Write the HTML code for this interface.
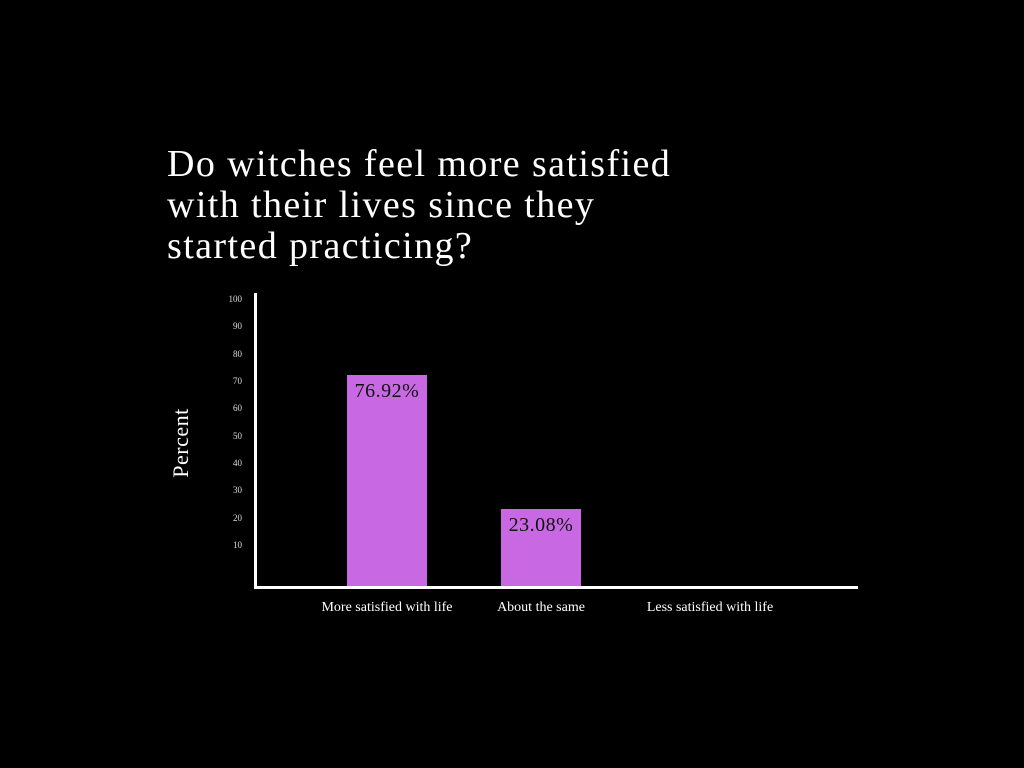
<!DOCTYPE html>
<html><head><meta charset="utf-8"><style>
body{margin:0;background:#000;width:1024px;height:768px;overflow:hidden;position:relative;font-family:"Liberation Serif",serif;color:#fff}
.t{position:absolute;left:167px;top:144px;font-size:38px;line-height:41px;letter-spacing:1.4px;white-space:nowrap}
.tick{position:absolute;right:782px;font-size:9px;color:#ddd;transform:translateY(-50%)}
.bar{position:absolute;background:#c968e3;width:80px;bottom:182px}
.bl{position:absolute;width:100%;text-align:center;top:5px;font-size:20px;color:#111;letter-spacing:0.5px}
.xl{position:absolute;top:600px;font-size:14px;transform:translateX(-50%);white-space:nowrap}
</style></head><body>
<div class="t">Do witches feel more satisfied<br>with their lives since they<br>started practicing?</div>
<div style="position:absolute;left:254px;top:293px;width:3px;height:296px;background:#fff"></div>
<div style="position:absolute;left:254px;top:586px;width:604px;height:3px;background:#fff"></div>
<div class="tick" style="top:299px">100</div>
<div class="tick" style="top:326px">90</div>
<div class="tick" style="top:354px">80</div>
<div class="tick" style="top:381px">70</div>
<div class="tick" style="top:408px">60</div>
<div class="tick" style="top:436px">50</div>
<div class="tick" style="top:463px">40</div>
<div class="tick" style="top:490px">30</div>
<div class="tick" style="top:518px">20</div>
<div class="tick" style="top:545px">10</div>
<div style="position:absolute;left:181px;top:443px;transform:translate(-50%,-50%) rotate(-90deg);font-size:22px;letter-spacing:0.5px;white-space:nowrap">Percent</div>
<div class="bar" style="left:347px;height:211px"><div class="bl">76.92%</div></div>
<div class="bar" style="left:501px;height:77px"><div class="bl">23.08%</div></div>
<div class="xl" style="left:387px">More satisfied with life</div>
<div class="xl" style="left:541px">About the same</div>
<div class="xl" style="left:710px">Less satisfied with life</div>
</body></html>
